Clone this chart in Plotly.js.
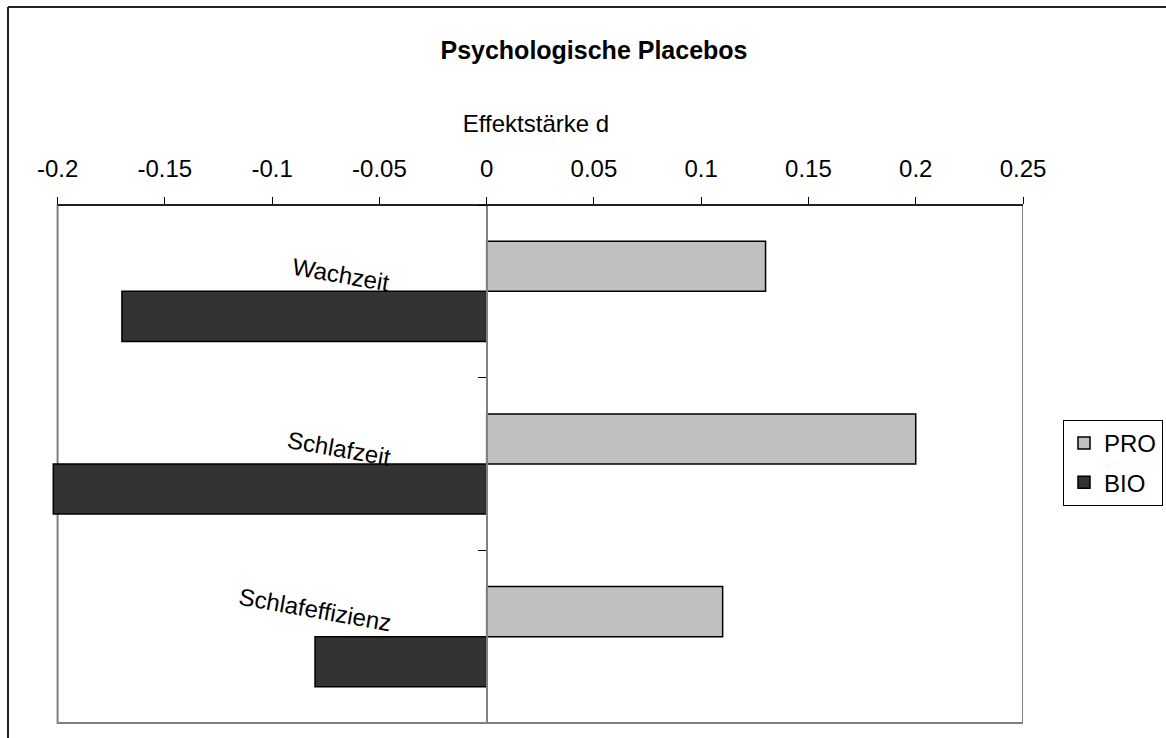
<!DOCTYPE html>
<html>
<head>
<meta charset="utf-8">
<script src="https://cdn.plot.ly/plotly-3.0.1.min.js"></script>
<style>
  html, body { margin: 0; padding: 0; background: #fff; }
  #chart { width: 1166px; height: 738px; }
</style>
</head>
<body>
<div id="chart"></div>
<script>
// Effect sizes of psychological placebos, per sleep measure
const categories = ["Wachzeit", "Schlafzeit", "Schlafeffizienz"];
const proValues = [0.13, 0.2, 0.11];
const bioValues = [-0.17, -0.202, -0.08];
const seriesNames = ["PRO", "BIO"];

const tickValues = [-0.2, -0.15, -0.1, -0.05, 0, 0.05, 0.1, 0.15, 0.2, 0.25];
const tickLabels = ["-0.2", "-0.15", "-0.1", "-0.05", "0", "0.05", "0.1", "0.15", "0.2", "0.25"];

// nominal axis span; the drawing range is opened a little on the left
// so the longest bar can run past the frame
const axisMin = -0.2, axisMax = 0.25;
const xRange = [-0.204, axisMax];
const FONT = "Liberation Sans, Arial, sans-serif";

const W = 1166, H = 738;
const M = { l: 49, r: 143, t: 205, b: 15 };
const plotW = W - M.l - M.r, plotH = H - M.t - M.b;
const px2paperX = px => (px - M.l) / plotW;
const px2paperY = py => (H - M.b - py) / plotH;

// category labels sit slightly above each group, tilted
const labelX = [-0.068, -0.0686, -0.08];
const labelShift = [17, 16, 27];

const barLine = { color: "#000000", width: 1.5 };

const traces = [
  {
    type: "bar", orientation: "h", name: seriesNames[0], legendgroup: "pro",
    y: categories, x: proValues,
    marker: { color: "#c0c0c0", line: barLine },
    hoverinfo: "x+name"
  },
  {
    type: "bar", orientation: "h", name: seriesNames[1], legendgroup: "bio",
    y: categories, x: bioValues,
    marker: { color: "#333333", line: barLine },
    hoverinfo: "x+name"
  }
];

const zeroPos = (0 - xRange[0]) / (xRange[1] - xRange[0]);

const annotations = categories.map((c, i) => ({
  text: c, xref: "x", yref: "y", x: labelX[i], y: c,
  yshift: labelShift[i], showarrow: false, textangle: 10,
  xanchor: "center", yanchor: "middle",
  font: { family: FONT, size: 24, color: "#000" }
}));

const layout = {
  width: W, height: H,
  paper_bgcolor: "#ffffff", plot_bgcolor: "#ffffff",
  margin: { l: M.l, r: M.r, t: M.t, b: M.b, autoexpand: false },
  barmode: "group", bargap: 0.42, bargroupgap: 0,
  font: { family: FONT, size: 24, color: "#000" },
  title: {
    text: "<b>Psychologische Placebos</b>",
    font: { family: FONT, size: 25, color: "#000" },
    xref: "paper", x: px2paperX(594), xanchor: "center",
    yref: "container", y: 1 - 50 / H, yanchor: "middle"
  },
  xaxis: {
    side: "top", range: xRange, fixedrange: true,
    tickmode: "array", tickvals: tickValues, ticktext: tickLabels,
    ticks: "outside", ticklen: 7, tickcolor: "#000", tickwidth: 1,
    ticklabelstandoff: 10,
    showline: false, showgrid: false, zeroline: false,
    tickfont: { family: FONT, size: 24, color: "#000" },
    title: { text: "Effektstärke d", standoff: 16,
             font: { family: FONT, size: 24, color: "#000" } }
  },
  yaxis: {
    type: "category", categoryorder: "array", categoryarray: categories,
    autorange: "reversed", fixedrange: true,
    anchor: "free", position: zeroPos,
    showline: true, linecolor: "#808080", linewidth: 2,
    ticks: "outside", tickson: "boundaries", ticklen: 8, tickcolor: "#000", tickwidth: 1,
    showticklabels: false, showgrid: false, zeroline: false
  },
  legend: {
    x: px2paperX(1163), xanchor: "right", y: px2paperY(463), yanchor: "middle",
    bordercolor: "#000", borderwidth: 1, bgcolor: "#fff",
    traceorder: "grouped", tracegroupgap: 5, itemwidth: 30,
    font: { family: FONT, size: 24, color: "#000" },
    itemclick: false, itemdoubleclick: false
  },
  annotations: annotations,
  shapes: [
    // plot area frame between the nominal axis ends
    { type: "rect", xref: "x", yref: "paper", x0: axisMin, x1: axisMax, y0: 0, y1: 1,
      line: { color: "#808080", width: 2 }, layer: "below" },
    // value axis line along the top
    { type: "line", xref: "x", yref: "paper", x0: axisMin, x1: axisMax, y0: 1, y1: 1,
      line: { color: "#000", width: 1.5 } },
    // outer chart frame (left and top edges)
    { type: "line", xref: "paper", yref: "paper",
      x0: px2paperX(8), x1: px2paperX(8), y0: px2paperY(H + 5), y1: px2paperY(7),
      line: { color: "#222", width: 2 } },
    { type: "line", xref: "paper", yref: "paper",
      x0: px2paperX(8), x1: px2paperX(W + 5), y0: px2paperY(7), y1: px2paperY(7),
      line: { color: "#222", width: 2 } }
  ],
  showlegend: true
};

Plotly.newPlot("chart", traces, layout, { displayModeBar: false });
</script>
</body>
</html>
